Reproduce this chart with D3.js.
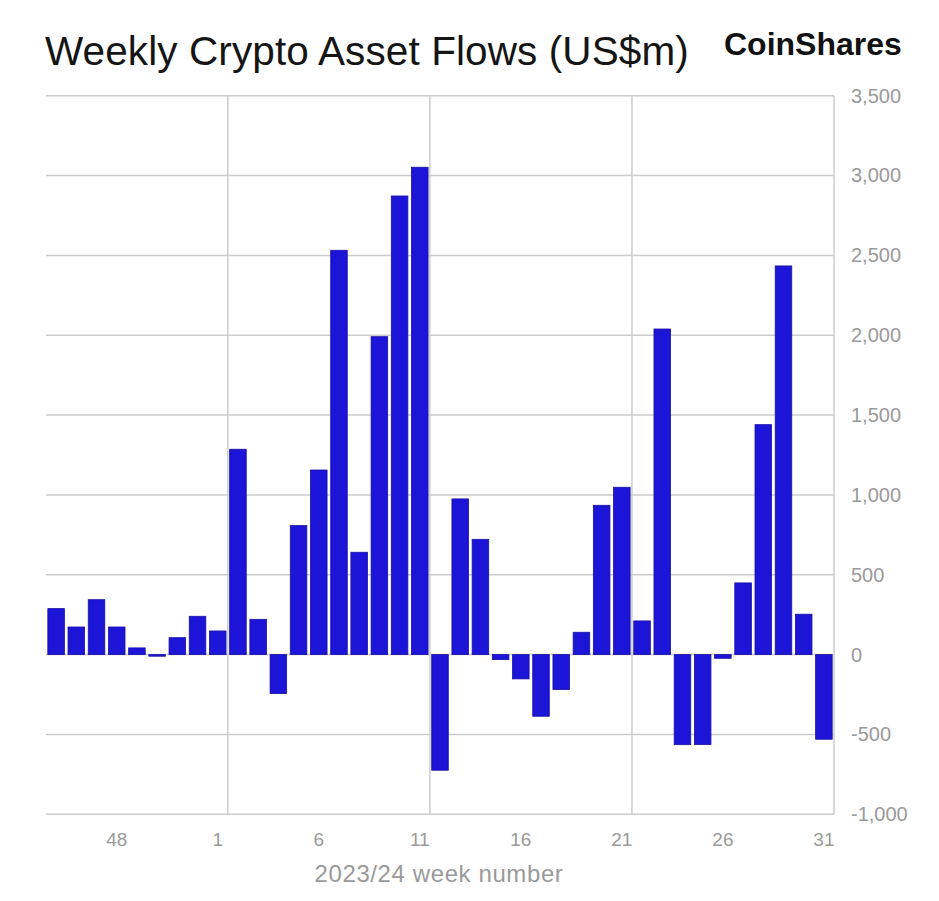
<!DOCTYPE html>
<html>
<head>
<meta charset="utf-8">
<script src="https://cdn.jsdelivr.net/npm/d3@7"></script>
<style>
	body { margin: 0; background: #fff; }
	text { font-family: "Liberation Sans", Arial, Helvetica, sans-serif; }
</style>
</head>
<body>
<div id="chart"></div>
<script>
// week numbers, 2023 wk45 .. 2024 wk31
const weeks = ["45", "46", "47", "48", "49", "50", "51", "52",
	"1", "2", "3", "4", "5", "6", "7", "8", "9", "10", "11", "12", "13", "14", "15",
	"16", "17", "18", "19", "20", "21", "22", "23", "24", "25", "26", "27", "28", "29", "30", "31"];

// flows, US$m
const flows = [288, 173, 344, 173, 42, -10, 106, 240,
	148, 1286, 221, -244, 808, 1156, 2532, 641, 1991, 2872, 3052, -724, 975, 722, -31,
	-152, -386, -219, 140, 935, 1048, 211, 2039, -564, -563, -23, 449, 1440, 2434, 253, -530];

const xTickLabels = ["48", "1", "6", "11", "16", "21", "26", "31"];
const yTicks = [-1000, -500, 0, 500, 1000, 1500, 2000, 2500, 3000, 3500];

const width = 939;
const height = 901;
const margin = ({ top: 95.7, right: 105, bottom: 86.7, left: 46 });

const data = weeks.map((w, i) => ({ week: w, value: flows[i] }));

const svg = d3.select("#chart")
	.append("svg")
	.attr("width", width)
	.attr("height", height)
	.attr("viewBox", [0, 0, width, height]);

const pad = 0.18;

const x = d3.scaleBand()
	.domain(weeks)
	.range([margin.left, width - margin.right])
	.paddingInner(pad)
	.paddingOuter(pad / 2);

const y = d3.scaleLinear()
	.domain([-1000, 3500])
	.range([height - margin.bottom, margin.top]);

const fmt = d => d3.format(",")(d).replace("−", "-");

// horizontal grid
svg.append("g")
	.attr("stroke", "#cccccc")
	.attr("stroke-width", 1.5)
	.selectAll("line")
	.data(yTicks)
	.join("line")
	.attr("x1", margin.left)
	.attr("x2", width - margin.right)
	.attr("y1", d => y(d))
	.attr("y2", d => y(d));

// vertical grid at every 10th band boundary
const vIdx = [9, 19, 29, 39];
svg.append("g")
	.attr("stroke", "#cccccc")
	.attr("stroke-width", 1.5)
	.selectAll("line")
	.data(vIdx)
	.join("line")
	.attr("x1", i => margin.left + i * x.step())
	.attr("x2", i => margin.left + i * x.step())
	.attr("y1", y(3500))
	.attr("y2", y(-1000));

// bars
svg.append("g")
	.selectAll("rect")
	.data(data)
	.join("rect")
	.attr("x", d => x(d.week))
	.attr("width", x.bandwidth())
	.attr("y", d => y(Math.max(0, d.value)))
	.attr("height", d => Math.abs(y(d.value) - y(0)))
	.attr("fill", "#1c14d6")
	.attr("stroke", "#1810a6")
	.attr("stroke-width", 0.8);

const yAxis = g => g
	.attr("transform", `translate(${width - margin.right},0)`)
	.call(d3.axisRight(y).tickValues(yTicks).tickSize(0).tickPadding(17).tickFormat(fmt))
	.call(g => g.select(".domain").remove())
	.call(g => g.selectAll("text")
		.attr("fill", "#9a9a9a")
		.attr("font-size", 20)
		.attr("font-family", "Liberation Sans, Arial, sans-serif"));

const xAxis = g => g
	.attr("transform", `translate(0,${height - margin.bottom})`)
	.call(d3.axisBottom(x).tickValues(xTickLabels).tickSize(0).tickPadding(18))
	.call(g => g.select(".domain").remove())
	.call(g => g.selectAll("text")
		.attr("fill", "#9a9a9a")
		.attr("font-size", 19)
		.attr("font-family", "Liberation Sans, Arial, sans-serif"));

svg.append("g").call(yAxis);
svg.append("g").call(xAxis);

svg.append("text")
	.attr("x", 439)
	.attr("y", 882)
	.attr("text-anchor", "middle")
	.attr("fill", "#9a9a9a")
	.attr("font-size", 24)
	.attr("letter-spacing", 0.6)
	.text("2023/24 week number");

svg.append("text")
	.attr("x", 45)
	.attr("y", 65)
	.attr("fill", "#151515")
	.attr("font-size", 40.5)
	.attr("letter-spacing", 0.1)
	.text("Weekly Crypto Asset Flows (US$m)");

svg.append("text")
	.attr("x", 724)
	.attr("y", 55)
	.attr("fill", "#111")
	.attr("font-size", 32)
	.attr("font-weight", "bold")
	.text("CoinShares");
</script>
</body>
</html>
